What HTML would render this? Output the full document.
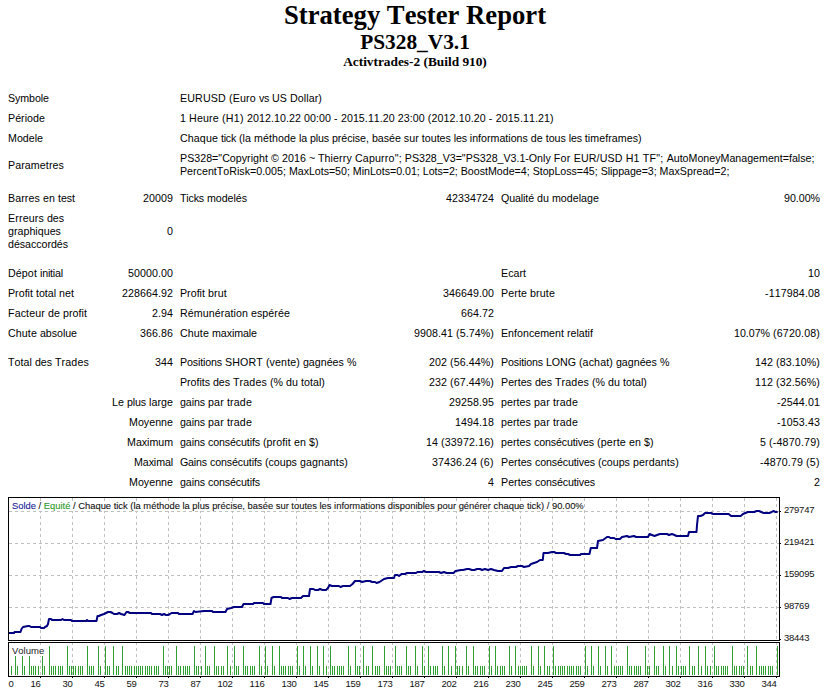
<!DOCTYPE html>
<html>
<head>
<meta charset="utf-8">
<title>Strategy Tester: PS328_V3.1</title>
<style>
html,body{font-kerning:none;margin:0;padding:0;background:#fff;overflow:hidden;}
body{width:830px;height:696px;position:relative;color:#000;}
.t1{position:absolute;left:0;width:830px;text-align:center;font-family:"Liberation Serif",serif;font-weight:bold;white-space:nowrap;}
#h1{top:0px;font-size:26.67px;line-height:31px;}
#h2{top:30px;font-size:21.33px;line-height:25px;}
#h3{top:54px;font-size:13.33px;line-height:15px;}
table.r{position:absolute;left:4px;top:88px;width:820px;border-collapse:separate;border-spacing:1px;table-layout:fixed;}
table.r td{font-family:"Liberation Sans",sans-serif;font-size:10.67px;padding:3px;line-height:13px;vertical-align:middle;white-space:nowrap;}
table.r td.w{white-space:normal;}
tr.sp td{height:8px;padding:0;line-height:0;font-size:0;}
.r td.a{text-align:right;}
</style>
</head>
<body>
<div class="t1" id="h1">Strategy Tester Report</div>
<div class="t1" id="h2">PS328_V3.1</div>
<div class="t1" id="h3">Activtrades-2 (Build 910)</div>

<table class="r">
<colgroup><col style="width:100px"><col style="width:70px"><col style="width:208px"><col style="width:111px"><col style="width:207px"><col style="width:117px"></colgroup>
<tr><td colspan="2"><span style="letter-spacing:-0.071px">Symbole</span></td><td colspan="4"><span style="letter-spacing:0.160px">EURUSD</span><span style="letter-spacing:0.036px"> </span><span style="letter-spacing:0.183px">(Euro</span><span style="letter-spacing:0.036px"> </span><span style="letter-spacing:-0.333px">vs</span><span style="letter-spacing:0.036px"> </span><span style="letter-spacing:0.091px">US</span><span style="letter-spacing:0.036px"> </span><span style="letter-spacing:0.084px">Dollar)</span></td></tr>
<tr><td colspan="2"><span style="letter-spacing:0.033px">Période</span></td><td colspan="4"><span style="letter-spacing:0.068px">1</span><span style="letter-spacing:0.036px"> </span><span style="letter-spacing:0.190px">Heure</span><span style="letter-spacing:0.036px"> </span><span style="letter-spacing:0.315px">(H1)</span><span style="letter-spacing:0.036px"> </span><span style="letter-spacing:0.061px">2012.10.22</span><span style="letter-spacing:0.036px"> </span><span style="letter-spacing:0.061px">00:00</span><span style="letter-spacing:0.036px"> </span><span style="letter-spacing:0.448px">-</span><span style="letter-spacing:0.036px"> </span><span style="letter-spacing:0.061px">2015.11.20</span><span style="letter-spacing:0.036px"> </span><span style="letter-spacing:0.061px">23:00</span><span style="letter-spacing:0.036px"> </span><span style="letter-spacing:0.097px">(2012.10.20</span><span style="letter-spacing:0.036px"> </span><span style="letter-spacing:0.448px">-</span><span style="letter-spacing:0.036px"> </span><span style="letter-spacing:0.097px">2015.11.21)</span></td></tr>
<tr><td colspan="2">Modele</td><td colspan="4"><span style="letter-spacing:0.106px">Chaque</span><span style="letter-spacing:0.036px"> </span><span style="letter-spacing:-0.250px">tick</span><span style="letter-spacing:0.036px"> </span><span style="letter-spacing:0.049px">(la</span><span style="letter-spacing:0.036px"> </span><span style="letter-spacing:0.070px">méthode</span><span style="letter-spacing:0.036px"> </span><span style="letter-spacing:-0.151px">la</span><span style="letter-spacing:0.036px"> </span><span style="letter-spacing:-0.142px">plus</span><span style="letter-spacing:0.036px"> </span><span style="letter-spacing:-0.044px">précise,</span><span style="letter-spacing:0.036px"> </span><span style="letter-spacing:-0.012px">basée</span><span style="letter-spacing:0.036px"> </span><span style="letter-spacing:0.061px">sur</span><span style="letter-spacing:0.036px"> </span><span style="letter-spacing:-0.010px">toutes</span><span style="letter-spacing:0.036px"> </span><span style="letter-spacing:-0.212px">les</span><span style="letter-spacing:0.036px"> </span><span style="letter-spacing:-0.008px">informations</span><span style="letter-spacing:0.036px"> </span><span style="letter-spacing:0.068px">de</span><span style="letter-spacing:0.036px"> </span><span style="letter-spacing:-0.040px">tous</span><span style="letter-spacing:0.036px"> </span><span style="letter-spacing:-0.212px">les</span><span style="letter-spacing:0.036px"> </span><span style="letter-spacing:0.063px">timeframes)</span></td></tr>
<tr><td colspan="2"><span style="letter-spacing:0.087px">Parametres</span></td><td colspan="4"><span style="letter-spacing:0.019px">PS328="Copyright</span><span style="letter-spacing:0.036px"> </span><span style="letter-spacing:0.141px">©</span><span style="letter-spacing:0.036px"> </span><span style="letter-spacing:0.068px">2016</span><span style="letter-spacing:0.036px"> </span><span style="letter-spacing:-0.229px">~</span><span style="letter-spacing:0.036px"> </span><span style="letter-spacing:0.116px">Thierry</span><span style="letter-spacing:0.036px"> </span><span style="letter-spacing:0.190px">Capurro";</span><span style="letter-spacing:0.036px"> </span><span style="letter-spacing:-0.016px">PS328_V3="PS328_V3.1-Only</span><span style="letter-spacing:0.036px"> </span><span style="letter-spacing:0.333px">For</span><span style="letter-spacing:0.036px"> </span><span style="letter-spacing:0.142px">EUR/USD</span><span style="letter-spacing:0.036px"> </span><span style="letter-spacing:0.182px">H1</span><span style="letter-spacing:0.036px"> </span><span style="letter-spacing:0.305px">TF";</span><span style="letter-spacing:0.036px"> </span>AutoMoneyManagement=false;<br><span style="letter-spacing:0.008px">PercentToRisk=0.005;</span><span style="letter-spacing:0.036px"> </span><span style="letter-spacing:-0.034px">MaxLots=50;</span><span style="letter-spacing:0.036px"> </span><span style="letter-spacing:-0.023px">MinLots=0.01;</span><span style="letter-spacing:0.036px"> </span><span style="letter-spacing:-0.041px">Lots=2;</span><span style="letter-spacing:0.036px"> </span><span style="letter-spacing:-0.007px">BoostMode=4;</span><span style="letter-spacing:0.036px"> </span><span style="letter-spacing:-0.044px">StopLoss=45;</span><span style="letter-spacing:0.036px"> </span><span style="letter-spacing:-0.058px">Slippage=3;</span><span style="letter-spacing:0.036px"> </span><span style="letter-spacing:0.027px">MaxSpread=2;</span></td></tr>
<tr class="sp"><td colspan="6" style="height:6px"></td></tr>
<tr><td><span style="letter-spacing:0.097px">Barres</span><span style="letter-spacing:0.036px"> </span><span style="letter-spacing:0.068px">en</span><span style="letter-spacing:0.036px"> </span><span style="letter-spacing:-0.048px">test</span></td><td class="a"><span style="letter-spacing:0.068px">20009</span></td><td><span style="letter-spacing:-0.177px">Ticks</span><span style="letter-spacing:0.036px"> </span><span style="letter-spacing:-0.045px">modelés</span></td><td class="a"><span style="letter-spacing:0.068px">42334724</span></td><td><span style="letter-spacing:-0.114px">Qualité</span><span style="letter-spacing:0.036px"> </span><span style="letter-spacing:0.068px">du</span><span style="letter-spacing:0.036px"> </span><span style="letter-spacing:0.019px">modelage</span></td><td class="a"><span style="letter-spacing:-0.030px">90.00%</span></td></tr>
<tr><td><span style="letter-spacing:0.147px">Erreurs</span><span style="letter-spacing:0.036px"> </span><span style="letter-spacing:-0.066px">des</span><br><span style="letter-spacing:0.022px">graphiques</span><br><span style="letter-spacing:-0.044px">désaccordés</span></td><td class="a"><span style="letter-spacing:0.068px">0</span></td><td></td><td class="a"></td><td></td><td class="a"></td></tr>
<tr class="sp"><td colspan="6" style="height:8px"></td></tr>
<tr><td><span style="letter-spacing:0.107px">Dépot</span><span style="letter-spacing:0.036px"> </span><span style="letter-spacing:-0.187px">initial</span></td><td class="a"><span style="letter-spacing:0.064px">50000.00</span></td><td></td><td class="a"></td><td><span style="letter-spacing:0.021px">Ecart</span></td><td class="a"><span style="letter-spacing:0.068px">10</span></td></tr>
<tr><td><span style="letter-spacing:0.017px">Profit</span><span style="letter-spacing:0.036px"> </span><span style="letter-spacing:-0.032px">total</span><span style="letter-spacing:0.036px"> </span><span style="letter-spacing:0.057px">net</span></td><td class="a"><span style="letter-spacing:0.064px">228664.92</span></td><td><span style="letter-spacing:0.017px">Profit</span><span style="letter-spacing:0.036px"> </span><span style="letter-spacing:0.155px">brut</span></td><td class="a"><span style="letter-spacing:0.064px">346649.00</span></td><td><span style="letter-spacing:0.101px">Perte</span><span style="letter-spacing:0.036px"> </span><span style="letter-spacing:0.138px">brute</span></td><td class="a"><span style="letter-spacing:0.103px">-117984.08</span></td></tr>
<tr><td><span style="letter-spacing:0.120px">Facteur</span><span style="letter-spacing:0.036px"> </span><span style="letter-spacing:0.068px">de</span><span style="letter-spacing:0.036px"> </span><span style="letter-spacing:0.048px">profit</span></td><td class="a"><span style="letter-spacing:0.060px">2.94</span></td><td><span style="letter-spacing:0.083px">Rémunération</span><span style="letter-spacing:0.036px"> </span><span style="letter-spacing:0.065px">espérée</span></td><td class="a"><span style="letter-spacing:0.062px">664.72</span></td><td></td><td class="a"></td></tr>
<tr><td><span style="letter-spacing:0.107px">Chute</span><span style="letter-spacing:0.036px"> </span><span style="letter-spacing:-0.052px">absolue</span></td><td class="a"><span style="letter-spacing:0.062px">366.86</span></td><td><span style="letter-spacing:0.107px">Chute</span><span style="letter-spacing:0.036px"> </span><span style="letter-spacing:-0.080px">maximale</span></td><td class="a"><span style="letter-spacing:0.063px">9908.41</span><span style="letter-spacing:0.036px"> </span><span style="letter-spacing:0.093px">(5.74%)</span></td><td><span style="letter-spacing:0.013px">Enfoncement</span><span style="letter-spacing:0.036px"> </span><span style="letter-spacing:-0.012px">relatif</span></td><td class="a"><span style="letter-spacing:-0.030px">10.07%</span><span style="letter-spacing:0.036px"> </span><span style="letter-spacing:0.149px">(6720.08)</span></td></tr>
<tr class="sp"><td colspan="6" style="height:8px"></td></tr>
<tr><td><span style="letter-spacing:0.057px">Total</span><span style="letter-spacing:0.036px"> </span><span style="letter-spacing:-0.066px">des</span><span style="letter-spacing:0.036px"> </span><span style="letter-spacing:0.134px">Trades</span></td><td class="a"><span style="letter-spacing:0.068px">344</span></td><td><span style="letter-spacing:-0.142px">Positions</span><span style="letter-spacing:0.036px"> </span><span style="letter-spacing:0.133px">SHORT</span><span style="letter-spacing:0.036px"> </span><span style="letter-spacing:0.115px">(vente)</span><span style="letter-spacing:0.036px"> </span><span style="letter-spacing:0.010px">gagnées</span><span style="letter-spacing:0.036px"> </span><span style="letter-spacing:-0.484px">%</span></td><td class="a"><span style="letter-spacing:0.068px">202</span><span style="letter-spacing:0.036px"> </span><span style="letter-spacing:0.090px">(56.44%)</span></td><td><span style="letter-spacing:-0.142px">Positions</span><span style="letter-spacing:0.036px"> </span><span style="letter-spacing:-0.057px">LONG</span><span style="letter-spacing:0.036px"> </span><span style="letter-spacing:0.115px">(achat)</span><span style="letter-spacing:0.036px"> </span><span style="letter-spacing:0.010px">gagnées</span><span style="letter-spacing:0.036px"> </span><span style="letter-spacing:-0.484px">%</span></td><td class="a"><span style="letter-spacing:0.068px">142</span><span style="letter-spacing:0.036px"> </span><span style="letter-spacing:0.090px">(83.10%)</span></td></tr>
<tr><td colspan="2" class="a"></td><td><span style="letter-spacing:-0.033px">Profits</span><span style="letter-spacing:0.036px"> </span><span style="letter-spacing:-0.066px">des</span><span style="letter-spacing:0.036px"> </span><span style="letter-spacing:0.134px">Trades</span><span style="letter-spacing:0.036px"> </span><span style="letter-spacing:-0.018px">(%</span><span style="letter-spacing:0.036px"> </span><span style="letter-spacing:0.068px">du</span><span style="letter-spacing:0.036px"> </span><span style="letter-spacing:0.048px">total)</span></td><td class="a"><span style="letter-spacing:0.068px">232</span><span style="letter-spacing:0.036px"> </span><span style="letter-spacing:0.090px">(67.44%)</span></td><td><span style="letter-spacing:0.029px">Pertes</span><span style="letter-spacing:0.036px"> </span><span style="letter-spacing:-0.066px">des</span><span style="letter-spacing:0.036px"> </span><span style="letter-spacing:0.134px">Trades</span><span style="letter-spacing:0.036px"> </span><span style="letter-spacing:-0.018px">(%</span><span style="letter-spacing:0.036px"> </span><span style="letter-spacing:0.068px">du</span><span style="letter-spacing:0.036px"> </span><span style="letter-spacing:0.048px">total)</span></td><td class="a"><span style="letter-spacing:0.068px">112</span><span style="letter-spacing:0.036px"> </span><span style="letter-spacing:0.090px">(32.56%)</span></td></tr>
<tr><td colspan="2" class="a"><span style="letter-spacing:0.068px">Le</span><span style="letter-spacing:0.036px"> </span><span style="letter-spacing:-0.142px">plus</span><span style="letter-spacing:0.036px"> </span><span style="letter-spacing:0.056px">large</span></td><td><span style="letter-spacing:-0.100px">gains</span><span style="letter-spacing:0.036px"> </span><span style="letter-spacing:0.194px">par</span><span style="letter-spacing:0.036px"> </span><span style="letter-spacing:0.138px">trade</span></td><td class="a"><span style="letter-spacing:0.064px">29258.95</span></td><td><span style="letter-spacing:0.059px">pertes</span><span style="letter-spacing:0.036px"> </span><span style="letter-spacing:0.194px">par</span><span style="letter-spacing:0.036px"> </span><span style="letter-spacing:0.138px">trade</span></td><td class="a"><span style="letter-spacing:0.111px">-2544.01</span></td></tr>
<tr><td colspan="2" class="a"><span style="letter-spacing:0.017px">Moyenne</span></td><td><span style="letter-spacing:-0.100px">gains</span><span style="letter-spacing:0.036px"> </span><span style="letter-spacing:0.194px">par</span><span style="letter-spacing:0.036px"> </span><span style="letter-spacing:0.138px">trade</span></td><td class="a"><span style="letter-spacing:0.063px">1494.18</span></td><td><span style="letter-spacing:0.059px">pertes</span><span style="letter-spacing:0.036px"> </span><span style="letter-spacing:0.194px">par</span><span style="letter-spacing:0.036px"> </span><span style="letter-spacing:0.138px">trade</span></td><td class="a"><span style="letter-spacing:0.111px">-1053.43</span></td></tr>
<tr><td colspan="2" class="a"><span style="letter-spacing:-0.032px">Maximum</span></td><td><span style="letter-spacing:-0.100px">gains</span><span style="letter-spacing:0.036px"> </span><span style="letter-spacing:-0.124px">consécutifs</span><span style="letter-spacing:0.036px"> </span><span style="letter-spacing:0.105px">(profit</span><span style="letter-spacing:0.036px"> </span><span style="letter-spacing:0.068px">en</span><span style="letter-spacing:0.036px"> </span><span style="letter-spacing:0.258px">$)</span></td><td class="a"><span style="letter-spacing:0.068px">14</span><span style="letter-spacing:0.036px"> </span><span style="letter-spacing:0.141px">(33972.16)</span></td><td><span style="letter-spacing:0.059px">pertes</span><span style="letter-spacing:0.036px"> </span><span style="letter-spacing:-0.138px">consécutives</span><span style="letter-spacing:0.036px"> </span><span style="letter-spacing:0.189px">(perte</span><span style="letter-spacing:0.036px"> </span><span style="letter-spacing:0.068px">en</span><span style="letter-spacing:0.036px"> </span><span style="letter-spacing:0.258px">$)</span></td><td class="a"><span style="letter-spacing:0.068px">5</span><span style="letter-spacing:0.036px"> </span><span style="letter-spacing:0.179px">(-4870.79)</span></td></tr>
<tr><td colspan="2" class="a"><span style="letter-spacing:-0.101px">Maximal</span></td><td><span style="letter-spacing:-0.173px">Gains</span><span style="letter-spacing:0.036px"> </span><span style="letter-spacing:-0.124px">consécutifs</span><span style="letter-spacing:0.036px"> </span>(coups<span style="letter-spacing:0.036px"> </span><span style="letter-spacing:0.062px">gagnants)</span></td><td class="a"><span style="letter-spacing:0.064px">37436.24</span><span style="letter-spacing:0.036px"> </span><span style="letter-spacing:0.321px">(6)</span></td><td><span style="letter-spacing:0.029px">Pertes</span><span style="letter-spacing:0.036px"> </span><span style="letter-spacing:-0.138px">consécutives</span><span style="letter-spacing:0.036px"> </span>(coups<span style="letter-spacing:0.036px"> </span><span style="letter-spacing:0.104px">perdants)</span></td><td class="a"><span style="letter-spacing:0.111px">-4870.79</span><span style="letter-spacing:0.036px"> </span><span style="letter-spacing:0.321px">(5)</span></td></tr>
<tr><td colspan="2" class="a"><span style="letter-spacing:0.017px">Moyenne</span></td><td><span style="letter-spacing:-0.100px">gains</span><span style="letter-spacing:0.036px"> </span><span style="letter-spacing:-0.124px">consécutifs</span></td><td class="a"><span style="letter-spacing:0.068px">4</span></td><td><span style="letter-spacing:0.029px">Pertes</span><span style="letter-spacing:0.036px"> </span><span style="letter-spacing:-0.138px">consécutives</span></td><td class="a"><span style="letter-spacing:0.068px">2</span></td></tr>
</table>

<!--CHART-->
<svg id="chart" width="830" height="206" viewBox="0 490 830 206" style="position:absolute;left:0;top:490px;">
<path d="M40.5 498V640 M72.5 498V640 M104.5 498V640 M136.5 498V640 M168.5 498V640 M200.5 498V640 M232.5 498V640 M264.5 498V640 M296.5 498V640 M328.5 498V640 M360.5 498V640 M392.5 498V640 M424.5 498V640 M456.5 498V640 M488.5 498V640 M520.5 498V640 M552.5 498V640 M584.5 498V640 M616.5 498V640 M648.5 498V640 M680.5 498V640 M712.5 498V640 M744.5 498V640 M776.5 498V640" stroke="#c0c0c0" stroke-width="1" stroke-dasharray="3 3" fill="none" shape-rendering="crispEdges"/>
<path d="M9 511.5H779 M9 543.5H779 M9 575.5H779 M9 607.5H779" stroke="#c0c0c0" stroke-width="1" stroke-dasharray="3 3" fill="none" shape-rendering="crispEdges"/>
<path d="M40.5 643V676 M72.5 643V676 M104.5 643V676 M136.5 643V676 M168.5 643V676 M200.5 643V676 M232.5 643V676 M264.5 643V676 M296.5 643V676 M328.5 643V676 M360.5 643V676 M392.5 643V676 M424.5 643V676 M456.5 643V676 M488.5 643V676 M520.5 643V676 M552.5 643V676 M584.5 643V676 M616.5 643V676 M648.5 643V676 M680.5 643V676 M712.5 643V676 M744.5 643V676 M776.5 643V676" stroke="#c0c0c0" stroke-width="1" stroke-dasharray="3 3" stroke-dashoffset="1" fill="none" shape-rendering="crispEdges"/>
<path d="M11.5 666V675 M15.5 656V675 M17.5 666V675 M22.5 656V675 M24.5 666V675 M29.5 656V675 M31.5 666V675 M33.5 666V675 M35.5 666V675 M38.5 666V675 M42.5 656V675 M44.5 666V675 M49.5 646V675 M51.5 666V675 M53.5 666V675 M55.5 666V675 M58.5 666V675 M60.5 666V675 M62.5 666V675 M67.5 646V675 M69.5 666V675 M71.5 666V675 M73.5 666V675 M75.5 666V675 M78.5 666V675 M80.5 666V675 M82.5 666V675 M87.5 646V675 M89.5 666V675 M91.5 666V675 M93.5 666V675 M98.5 646V675 M100.5 666V675 M105.5 646V675 M107.5 666V675 M109.5 666V675 M113.5 646V675 M116.5 666V675 M118.5 666V675 M122.5 646V675 M125.5 666V675 M127.5 666V675 M129.5 666V675 M131.5 666V675 M134.5 666V675 M136.5 666V675 M138.5 666V675 M140.5 666V675 M142.5 666V675 M145.5 666V675 M147.5 666V675 M149.5 666V675 M151.5 666V675 M154.5 666V675 M156.5 666V675 M158.5 666V675 M163.5 646V675 M165.5 666V675 M167.5 666V675 M169.5 666V675 M171.5 666V675 M176.5 646V675 M178.5 666V675 M180.5 666V675 M183.5 666V675 M185.5 666V675 M187.5 666V675 M189.5 666V675 M194.5 646V675 M196.5 666V675 M198.5 666V675 M201.5 666V675 M205.5 646V675 M207.5 666V675 M209.5 666V675 M214.5 646V675 M216.5 666V675 M218.5 666V675 M221.5 666V675 M223.5 666V675 M227.5 646V675 M230.5 666V675 M234.5 646V675 M236.5 666V675 M238.5 666V675 M243.5 646V675 M245.5 666V675 M247.5 666V675 M250.5 666V675 M252.5 666V675 M254.5 666V675 M259.5 646V675 M261.5 666V675 M265.5 646V675 M267.5 666V675 M272.5 646V675 M274.5 666V675 M279.5 646V675 M281.5 666V675 M283.5 666V675 M285.5 666V675 M288.5 666V675 M290.5 666V675 M292.5 666V675 M297.5 646V675 M299.5 666V675 M303.5 646V675 M305.5 666V675 M310.5 646V675 M312.5 666V675 M317.5 646V675 M319.5 666V675 M323.5 646V675 M326.5 666V675 M330.5 646V675 M332.5 666V675 M334.5 666V675 M337.5 666V675 M339.5 666V675 M341.5 666V675 M343.5 666V675 M348.5 646V675 M350.5 666V675 M355.5 646V675 M357.5 666V675 M359.5 666V675 M363.5 646V675 M366.5 666V675 M368.5 666V675 M372.5 646V675 M375.5 666V675 M377.5 666V675 M379.5 666V675 M384.5 646V675 M386.5 666V675 M388.5 666V675 M390.5 666V675 M395.5 646V675 M397.5 666V675 M399.5 666V675 M401.5 666V675 M406.5 646V675 M408.5 666V675 M410.5 666V675 M415.5 646V675 M417.5 666V675 M422.5 646V675 M424.5 666V675 M428.5 646V675 M430.5 666V675 M433.5 666V675 M435.5 666V675 M437.5 666V675 M442.5 646V675 M444.5 666V675 M448.5 646V675 M451.5 666V675 M455.5 646V675 M457.5 666V675 M459.5 666V675 M462.5 666V675 M466.5 646V675 M468.5 666V675 M473.5 646V675 M475.5 666V675 M477.5 666V675 M480.5 666V675 M482.5 666V675 M484.5 666V675 M489.5 646V675 M491.5 666V675 M495.5 646V675 M497.5 666V675 M500.5 666V675 M502.5 666V675 M504.5 666V675 M509.5 646V675 M511.5 666V675 M515.5 646V675 M518.5 666V675 M520.5 666V675 M522.5 666V675 M524.5 666V675 M526.5 666V675 M531.5 646V675 M533.5 666V675 M538.5 646V675 M540.5 666V675 M544.5 646V675 M547.5 666V675 M549.5 666V675 M553.5 646V675 M555.5 666V675 M558.5 666V675 M560.5 666V675 M562.5 666V675 M564.5 666V675 M567.5 666V675 M569.5 666V675 M571.5 666V675 M573.5 666V675 M576.5 666V675 M578.5 666V675 M580.5 666V675 M585.5 646V675 M587.5 666V675 M591.5 646V675 M593.5 666V675 M598.5 646V675 M600.5 666V675 M605.5 646V675 M607.5 666V675 M611.5 646V675 M614.5 666V675 M616.5 666V675 M618.5 666V675 M620.5 666V675 M622.5 666V675 M627.5 646V675 M629.5 666V675 M631.5 666V675 M634.5 666V675 M636.5 666V675 M638.5 666V675 M640.5 666V675 M645.5 646V675 M647.5 666V675 M649.5 666V675 M654.5 646V675 M656.5 666V675 M658.5 666V675 M663.5 646V675 M665.5 666V675 M669.5 646V675 M672.5 666V675 M676.5 646V675 M678.5 666V675 M681.5 666V675 M683.5 666V675 M685.5 666V675 M689.5 646V675 M692.5 666V675 M694.5 666V675 M698.5 646V675 M701.5 666V675 M705.5 646V675 M707.5 666V675 M710.5 666V675 M714.5 646V675 M716.5 666V675 M718.5 666V675 M721.5 666V675 M723.5 666V675 M725.5 666V675 M727.5 666V675 M732.5 646V675 M734.5 666V675 M736.5 666V675 M739.5 666V675 M741.5 666V675 M743.5 666V675 M747.5 646V675 M750.5 666V675 M752.5 666V675 M756.5 646V675 M759.5 666V675 M761.5 666V675 M763.5 666V675 M765.5 666V675 M768.5 666V675 M770.5 666V675 M772.5 666V675 M777.5 646V675" stroke="#30a030" stroke-width="1" fill="none" shape-rendering="crispEdges"/>
<polyline points="8,633 14,633 14.5,632 20.5,632 21.5,629 23,627 28,626 29.5,626 31,627 40,627 41,628 44,628 45,627 47,626 48,624 49,619 51,619 52,620 61,620 62.5,619 64,620 71,620 72,621 86,621 87,620 88,621 96.5,621 97.5,616 99,616 101,615 104,614 106,613 108,612 110.5,612 112.5,613 114,614 117,614 119,613 121,614 124.5,615 126.5,612 128,612 130,613 151,613 152,614 158,614 160,614 162,615 164,614 166,615 168,615 170,614 171.5,613 178,613 179,614 192.5,614 194,611 195.5,612 204,611 205.5,611 212,611 213,612 225.5,612 227,609 231,608 234,607 242,607 243.5,604 248,604 253,604 254,603 263,603 264,604 270.5,604 271.5,598 273.5,597 281,597 282,598 288,598 289.5,599 292,598 301,598 303,596 309,596 310,589 313.5,589 315,590 318,590 320,589 322.5,590 326,590 328,588 329.5,585 332,586 339,586 340.5,587 343,586 350,586 352.5,584 355,581 360,581 362,582 366,581 370,581 372,582 375,582 376.5,583 379.5,582 384,579 388,578 394,578 395,575 397.5,575 399,576 401.5,574 405,574 407,573 408,573 416,573 417.5,572 422,572 424,571 426,572 428,572 439,572 441,573 444,572 446.5,573 453.5,573 455.5,571 461,570 463,570 467,569 469,569 472,570 474.5,570 477,569 480,569 482,570 485,569 488,570 491,569 494,570 498,571 502,571 504,568 508,568 511,567 516,567 518,566 522,566 524,567 529,566 531,564 534,563 537,562 540,560 542.8,560 543.5,553 548,553 552,552 554,552 556,553 564,553 566,554 568,554 570,555 580,555 581,554 589.5,554 590.8,548 597,548 598,541 603,540 607,537 609,537 610.5,538 614,538 615.5,539 620,539 622,537 627,536 629,537 634,536 636,537 648,537 649.5,534 652,535 654.5,536 657,535 660,534 667,534 669,535 672,534 674.5,535 676.5,536 688,536 689,532 692,532 694,532 696.5,532 697,525 698,516 700.5,516 703,515 705,513 711,513 713,514 720,514 722.4,514 724,514 726.4,514 728.7,514 731.1,516 740.7,516 743,514 745.4,513 747.8,512 754.2,512 756.6,511 759,511 761.3,512 763.7,513 769.3,513 771.7,512 773.3,511 775.6,512 777.6,512" stroke="#000080" stroke-width="2" fill="none" stroke-linejoin="round"/>
<path d="M8.5 497.5H779.5V640.5H8.5Z M8.5 642.5H779.5V676.5H8.5Z" stroke="#000" stroke-width="1" fill="none" shape-rendering="crispEdges"/>
<path d="M780 511.5H781 M780 543.5H781 M780 575.5H781 M780 607.5H781 M780 639.5H781 M40.5 677V678 M72.5 677V678 M104.5 677V678 M136.5 677V678 M168.5 677V678 M200.5 677V678 M232.5 677V678 M264.5 677V678 M296.5 677V678 M328.5 677V678 M360.5 677V678 M392.5 677V678 M424.5 677V678 M456.5 677V678 M488.5 677V678 M520.5 677V678 M552.5 677V678 M584.5 677V678 M616.5 677V678 M648.5 677V678 M680.5 677V678 M712.5 677V678 M744.5 677V678 M776.5 677V678" stroke="#000" stroke-width="1" fill="none" shape-rendering="crispEdges"/>
<text x="784" y="513" font-family="Liberation Sans, sans-serif" font-size="9.5" letter-spacing="-0.25" fill="#111">279747</text>
<text x="784" y="545" font-family="Liberation Sans, sans-serif" font-size="9.5" letter-spacing="-0.25" fill="#111">219421</text>
<text x="784" y="577" font-family="Liberation Sans, sans-serif" font-size="9.5" letter-spacing="-0.25" fill="#111">159095</text>
<text x="784" y="609" font-family="Liberation Sans, sans-serif" font-size="9.5" letter-spacing="-0.25" fill="#111">98769</text>
<text x="784" y="641" font-family="Liberation Sans, sans-serif" font-size="9.5" letter-spacing="-0.25" fill="#111">38443</text>
<text x="8.6" y="687" font-family="Liberation Sans, sans-serif" font-size="9.5" letter-spacing="-0.25" fill="#111">0</text>
<text x="40.5" y="687" text-anchor="end" font-family="Liberation Sans, sans-serif" font-size="9.5" letter-spacing="-0.25" fill="#111">16</text>
<text x="72.5" y="687" text-anchor="end" font-family="Liberation Sans, sans-serif" font-size="9.5" letter-spacing="-0.25" fill="#111">30</text>
<text x="104.5" y="687" text-anchor="end" font-family="Liberation Sans, sans-serif" font-size="9.5" letter-spacing="-0.25" fill="#111">45</text>
<text x="136.5" y="687" text-anchor="end" font-family="Liberation Sans, sans-serif" font-size="9.5" letter-spacing="-0.25" fill="#111">59</text>
<text x="168.5" y="687" text-anchor="end" font-family="Liberation Sans, sans-serif" font-size="9.5" letter-spacing="-0.25" fill="#111">73</text>
<text x="200.5" y="687" text-anchor="end" font-family="Liberation Sans, sans-serif" font-size="9.5" letter-spacing="-0.25" fill="#111">87</text>
<text x="232.5" y="687" text-anchor="end" font-family="Liberation Sans, sans-serif" font-size="9.5" letter-spacing="-0.25" fill="#111">102</text>
<text x="264.5" y="687" text-anchor="end" font-family="Liberation Sans, sans-serif" font-size="9.5" letter-spacing="-0.25" fill="#111">116</text>
<text x="296.5" y="687" text-anchor="end" font-family="Liberation Sans, sans-serif" font-size="9.5" letter-spacing="-0.25" fill="#111">130</text>
<text x="328.5" y="687" text-anchor="end" font-family="Liberation Sans, sans-serif" font-size="9.5" letter-spacing="-0.25" fill="#111">145</text>
<text x="360.5" y="687" text-anchor="end" font-family="Liberation Sans, sans-serif" font-size="9.5" letter-spacing="-0.25" fill="#111">159</text>
<text x="392.5" y="687" text-anchor="end" font-family="Liberation Sans, sans-serif" font-size="9.5" letter-spacing="-0.25" fill="#111">173</text>
<text x="424.5" y="687" text-anchor="end" font-family="Liberation Sans, sans-serif" font-size="9.5" letter-spacing="-0.25" fill="#111">187</text>
<text x="456.5" y="687" text-anchor="end" font-family="Liberation Sans, sans-serif" font-size="9.5" letter-spacing="-0.25" fill="#111">202</text>
<text x="488.5" y="687" text-anchor="end" font-family="Liberation Sans, sans-serif" font-size="9.5" letter-spacing="-0.25" fill="#111">216</text>
<text x="520.5" y="687" text-anchor="end" font-family="Liberation Sans, sans-serif" font-size="9.5" letter-spacing="-0.25" fill="#111">230</text>
<text x="552.5" y="687" text-anchor="end" font-family="Liberation Sans, sans-serif" font-size="9.5" letter-spacing="-0.25" fill="#111">245</text>
<text x="584.5" y="687" text-anchor="end" font-family="Liberation Sans, sans-serif" font-size="9.5" letter-spacing="-0.25" fill="#111">259</text>
<text x="616.5" y="687" text-anchor="end" font-family="Liberation Sans, sans-serif" font-size="9.5" letter-spacing="-0.25" fill="#111">273</text>
<text x="648.5" y="687" text-anchor="end" font-family="Liberation Sans, sans-serif" font-size="9.5" letter-spacing="-0.25" fill="#111">287</text>
<text x="680.5" y="687" text-anchor="end" font-family="Liberation Sans, sans-serif" font-size="9.5" letter-spacing="-0.25" fill="#111">302</text>
<text x="712.5" y="687" text-anchor="end" font-family="Liberation Sans, sans-serif" font-size="9.5" letter-spacing="-0.25" fill="#111">316</text>
<text x="744.5" y="687" text-anchor="end" font-family="Liberation Sans, sans-serif" font-size="9.5" letter-spacing="-0.25" fill="#111">330</text>
<text x="776.5" y="687" text-anchor="end" font-family="Liberation Sans, sans-serif" font-size="9.5" letter-spacing="-0.25" fill="#111">344</text>
<rect x="11" y="645" width="34" height="11" fill="#fff"/><rect x="11" y="501" width="573" height="10" fill="#fff"/>
<text x="12" y="654" font-family="Liberation Sans, sans-serif" font-size="9.5" fill="#222">Volume</text>
<text x="12" y="509" font-family="Liberation Sans, sans-serif" font-size="9.4" fill="#111" stroke="#111" stroke-width="0.1"><tspan fill="#20209a" stroke="#20209a">Solde</tspan> / <tspan fill="#2c9a2c" stroke="#2c9a2c">Equité</tspan> / Chaque tick (la méthode la plus précise, basée sur toutes les informations disponibles pour générer chaque tick) / 90.00%</text>
</svg>
<!--/CHART-->
</body>
</html>
